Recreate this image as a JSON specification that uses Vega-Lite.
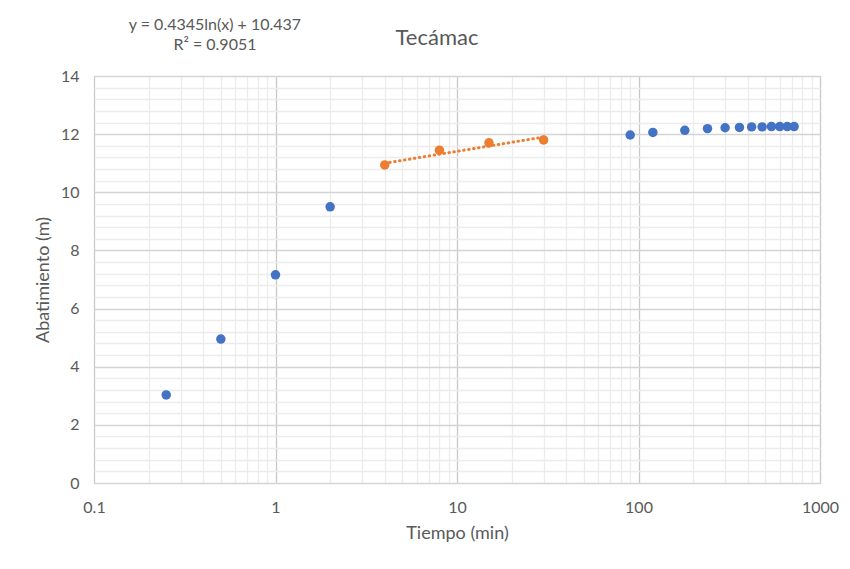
{
  "$schema": "https://vega.github.io/schema/vega-lite/v6.json",
  "width": 726,
  "height": 407,
  "autosize": {"type": "none"},
  "padding": {"left": 94, "top": 76, "right": 30, "bottom": 86},
  "background": "white",
  "config": {
    "font": "Lato",
    "view": {"stroke": "#d9d9d9", "strokeWidth": 1}
  },
  "title": {
    "text": "Tecámac",
    "fontSize": 22,
    "fontWeight": "normal",
    "color": "#595959",
    "anchor": "middle",
    "dx": -20,
    "offset": 24,
    "dy": 57
  },
  "datasets": {
    "puntos": [
      {"t": 0.25, "s": 3.03, "serie": "Datos"},
      {"t": 0.5, "s": 4.95, "serie": "Datos"},
      {"t": 1, "s": 7.16, "serie": "Datos"},
      {"t": 2, "s": 9.5, "serie": "Datos"},
      {"t": 4, "s": 10.94, "serie": "Ajuste"},
      {"t": 8, "s": 11.45, "serie": "Ajuste"},
      {"t": 15, "s": 11.7, "serie": "Ajuste"},
      {"t": 30, "s": 11.8, "serie": "Ajuste"},
      {"t": 90, "s": 11.97, "serie": "Datos"},
      {"t": 120, "s": 12.06, "serie": "Datos"},
      {"t": 180, "s": 12.13, "serie": "Datos"},
      {"t": 240, "s": 12.19, "serie": "Datos"},
      {"t": 300, "s": 12.22, "serie": "Datos"},
      {"t": 360, "s": 12.23, "serie": "Datos"},
      {"t": 420, "s": 12.25, "serie": "Datos"},
      {"t": 480, "s": 12.25, "serie": "Datos"},
      {"t": 540, "s": 12.26, "serie": "Datos"},
      {"t": 600, "s": 12.26, "serie": "Datos"},
      {"t": 660, "s": 12.26, "serie": "Datos"},
      {"t": 720, "s": 12.26, "serie": "Datos"}
    ],
    "tendencia": [
      {"t": 4, "s": 11.0},
      {"t": 30, "s": 11.9}
    ],
    "ecuacion": [
      {"t": 0.464, "s": 15.75, "txt": "y = 0.4345ln(x) + 10.437"},
      {"t": 0.464, "s": 15.07, "txt": "R² = 0.9051"}
    ]
  },
  "encoding": {
    "x": {
      "field": "t",
      "type": "quantitative",
      "scale": {"type": "log", "domain": [0.1, 1000], "nice": false},
      "axis": {
        "title": "Tiempo (min)",
        "titleFontSize": 18,
        "titleFontWeight": "normal",
        "titleColor": "#595959",
        "titlePadding": 9,
        "values": [0.1, 0.2, 0.3, 0.4, 0.5, 0.6, 0.7, 0.8, 0.9, 1, 2, 3, 4, 5, 6, 7, 8, 9, 10, 20, 30, 40, 50, 60, 70, 80, 90, 100, 200, 300, 400, 500, 600, 700, 800, 900, 1000],
        "labelExpr": "indexof([0.1, 1, 10, 100, 1000], datum.value) >= 0 ? toString(datum.value) : ''",
        "labelOverlap": false,
        "labelFlush": false,
        "labelBound": false,
        "labelFontSize": 16,
        "labelColor": "#595959",
        "labelPadding": 16,
        "ticks": false,
        "domain": false,
        "gridColor": {"condition": {"test": "indexof([0.1, 1, 10, 100, 1000], datum.value) >= 0", "value": "#c8c8c8"}, "value": "#ececec"},
        "gridWidth": 1.3
      }
    },
    "y": {
      "field": "s",
      "type": "quantitative",
      "scale": {"domain": [0, 14], "nice": false},
      "axis": {
        "title": "Abatimiento (m)",
        "titleFontSize": 18,
        "titleFontWeight": "normal",
        "titleColor": "#595959",
        "titlePadding": 8,
        "values": [0, 0.4, 0.8, 1.2, 1.6, 2, 2.4, 2.8, 3.2, 3.6, 4, 4.4, 4.8, 5.2, 5.6, 6, 6.4, 6.8, 7.2, 7.6, 8, 8.4, 8.8, 9.2, 9.6, 10, 10.4, 10.8, 11.2, 11.6, 12, 12.4, 12.8, 13.2, 13.6, 14],
        "labelExpr": "datum.value % 2 === 0 ? toString(datum.value) : ''",
        "labelOverlap": false,
        "labelFlush": false,
        "labelFontSize": 16,
        "labelColor": "#595959",
        "labelPadding": 15,
        "ticks": false,
        "domain": false,
        "gridColor": {"condition": {"test": "datum.value % 2 === 0", "value": "#d4d4d4"}, "value": "#ececec"},
        "gridWidth": 1.3
      }
    }
  },
  "layer": [
    {
      "data": {"name": "tendencia"},
      "mark": {"type": "line", "color": "#ED7D31", "strokeWidth": 3, "strokeDash": [0.5, 4.5], "strokeCap": "round"}
    },
    {
      "data": {"name": "puntos"},
      "mark": {"type": "point", "filled": true, "size": 90, "opacity": 1},
      "encoding": {
        "color": {
          "field": "serie",
          "type": "nominal",
          "scale": {"domain": ["Datos", "Ajuste"], "range": ["#4472C4", "#ED7D31"]},
          "legend": null
        }
      }
    },
    {
      "data": {"name": "ecuacion"},
      "mark": {"type": "text", "fontSize": 16, "color": "#595959", "align": "center", "baseline": "middle"},
      "encoding": {
        "text": {"field": "txt"}
      }
    }
  ]
}
